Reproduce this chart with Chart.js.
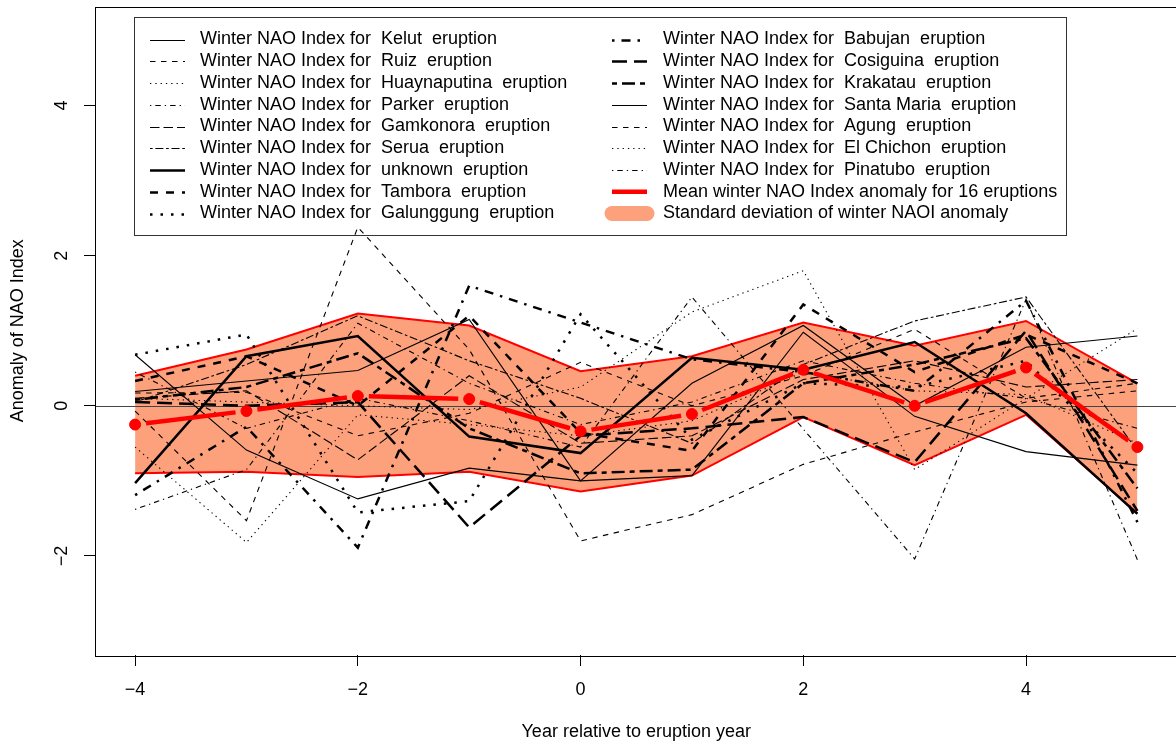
<!DOCTYPE html>
<html>
<head>
<meta charset="utf-8">
<script src="https://cdn.jsdelivr.net/npm/chart.js@4/dist/chart.umd.min.js"></script>
<style>
  html, body { margin: 0; padding: 0; overflow: hidden; background: #fff; }
  #wrap { width: 1184px; height: 744px; }
</style>
</head>
<body>
<div id="wrap"><canvas id="c" width="1184" height="744"></canvas></div>
<script>
// Years relative to the eruption year
const years = [-4, -3, -2, -1, 0, 1, 2, 3, 4, 5];

// Winter NAO index anomaly around each eruption
const kelut        = [0.68, -0.59, -1.24, -0.83, -1.00, -0.93, 0.98, -0.14, -0.61, -0.79];
const ruiz         = [-0.07, -1.53, 2.38, 0.75, -1.80, -1.45, -0.78, -0.35, 0.05, 0.20];
const huaynaputina = [-0.55, -1.82, -0.12, -0.25, -0.40, -0.20, 0.45, 0.20, 0.15, -0.50];
const parker       = [-1.38, -0.85, 1.10, 0.30, -0.25, 0.05, 0.60, 0.30, 0.10, -0.30];
const gamkonora    = [0.10, 0.20, -0.72, 0.40, -0.50, -0.40, 0.35, 0.60, 0.25, 0.35];
const serua        = [0.05, 0.55, 1.20, 0.60, 0.10, -0.50, 0.55, 1.13, 1.45, -0.60];
const unknown      = [-1.03, 0.66, 0.93, -0.41, -0.63, 0.64, 0.48, 0.85, -0.10, -1.44];
const tambora      = [0.33, 0.66, 0.00, 1.20, -0.36, -0.60, 1.35, 0.45, 0.95, 0.30];
const galunggung   = [0.68, 0.95, -1.42, -1.27, 1.22, -0.45, 0.30, 0.25, 0.60, -0.90];
const babujan      = [-1.19, -0.28, -1.89, 1.60, 1.11, 0.62, 0.45, 0.20, 1.40, -1.55];
const cosiguina    = [0.05, 0.00, 0.05, -1.62, -0.40, -0.30, -0.15, -0.75, 1.00, -1.40];
const krakatau     = [0.08, 0.25, 0.70, -0.30, -0.90, -0.85, 0.30, 0.55, 0.90, -1.10];
const santaMaria   = [0.19, 0.33, 0.47, 1.15, -1.00, 0.30, 1.07, 0.00, 0.78, 0.93];
const agung        = [0.17, 0.18, -0.40, -0.10, 0.58, 0.00, 0.40, 1.02, 0.10, 0.30];
const elChichon    = [0.10, 0.05, 0.00, -0.05, 0.25, 1.25, 1.80, -0.85, 0.10, 1.03];
const pinatubo     = [0.45, -0.30, 0.10, -0.20, -0.55, 1.45, -0.31, -2.04, 1.42, -2.05];

// Composite mean and the +/- one standard deviation envelope
const meanAnom = [-0.25, -0.07, 0.13, 0.09, -0.34, -0.11, 0.48, 0.00, 0.51, -0.55];
const sdUpper  = [0.40, 0.75, 1.23, 1.07, 0.46, 0.66, 1.11, 0.80, 1.13, 0.30];
const sdLower  = [-0.90, -0.88, -0.95, -0.88, -1.14, -0.93, -0.15, -0.79, -0.12, -1.43];

// Axis ticks
const xTicks = [-4, -2, 0, 2, 4];
const yTicks = [-2, 0, 2, 4];

const FONT = '"Liberation Sans", Arial, Helvetica, sans-serif';

// Line types (thin / thick variants)
const DASH = {
  solid:    { thin: [],                  thick: [] },
  dashed:   { thin: [5.5, 5.5],          thick: [8, 8] },
  dotted:   { thin: [1.3, 4],            thick: [2.5, 8] },
  dotdash:  { thin: [1.3, 4, 5.5, 4],    thick: [2.5, 7, 9, 7] },
  longdash: { thin: [9.5, 4],            thick: [15, 7] },
  twodash:  { thin: [2.7, 2.7, 8, 2.7],  thick: [5, 5, 13, 5] }
};
const THIN = 1.1, THICK = 2.5;

const eruptions = [
  { name: 'Kelut',        values: kelut,        lty: 'solid',    thick: false },
  { name: 'Ruiz',         values: ruiz,         lty: 'dashed',   thick: false },
  { name: 'Huaynaputina', values: huaynaputina, lty: 'dotted',   thick: false },
  { name: 'Parker',       values: parker,       lty: 'dotdash',  thick: false },
  { name: 'Gamkonora',    values: gamkonora,    lty: 'longdash', thick: false },
  { name: 'Serua',        values: serua,        lty: 'twodash',  thick: false },
  { name: 'unknown',      values: unknown,      lty: 'solid',    thick: true },
  { name: 'Tambora',      values: tambora,      lty: 'dashed',   thick: true },
  { name: 'Galunggung',   values: galunggung,   lty: 'dotted',   thick: true },
  { name: 'Babujan',      values: babujan,      lty: 'dotdash',  thick: true },
  { name: 'Cosiguina',    values: cosiguina,    lty: 'longdash', thick: true },
  { name: 'Krakatau',     values: krakatau,     lty: 'twodash',  thick: true },
  { name: 'Santa Maria',  values: santaMaria,   lty: 'solid',    thick: false },
  { name: 'Agung',        values: agung,        lty: 'dashed',   thick: false },
  { name: 'El Chichon',   values: elChichon,    lty: 'dotted',   thick: false },
  { name: 'Pinatubo',     values: pinatubo,     lty: 'dotdash',  thick: false }
];

const toXY = vals => vals.map((v, i) => ({ x: years[i], y: v }));
const fmt = v => (v < 0 ? '\u2212' + Math.abs(v) : String(v));

const datasets = [];
// mean points (drawn on top)
datasets.push({
  label: 'mean', data: toXY(meanAnom), showLine: false,
  pointRadius: 5.5, pointBackgroundColor: '#ff0000', pointBorderColor: '#ff0000',
  pointBorderWidth: 1, order: 0
});
eruptions.forEach((e, k) => {
  datasets.push({
    label: e.name, data: toXY(e.values),
    borderColor: '#000', borderWidth: e.thick ? THICK : THIN,
    borderDash: DASH[e.lty][e.thick ? 'thick' : 'thin'],
    pointRadius: 0, fill: false, tension: 0, order: 1 + k
  });
});
const BAND_FILL = '#fca17c';
datasets.push({
  label: 'sdLower', data: toXY(sdLower), borderColor: '#ff0000', borderWidth: 2,
  pointRadius: 0, fill: false, order: 30
});
datasets.push({
  label: 'sdUpper', data: toXY(sdUpper), borderColor: '#ff0000', borderWidth: 2,
  backgroundColor: BAND_FILL, pointRadius: 0, fill: '-1', order: 31
});
const BAND_INDEX = datasets.length - 2; // lower edge, drawn after the fill

// Zero reference line, drawn just above the band
const zeroLine = {
  id: 'zeroLine',
  afterDatasetDraw(chart, args) {
    if (args.index !== BAND_INDEX) return;
    const { ctx, chartArea } = chart;
    const y = Math.round(chart.scales.y.getPixelForValue(0)) + 0.5;
    ctx.save();
    ctx.strokeStyle = '#444';
    ctx.lineWidth = 1;
    ctx.beginPath();
    ctx.moveTo(chartArea.left, y);
    ctx.lineTo(chartArea.right, y);
    ctx.stroke();
    ctx.restore();
  }
};

// Mean line with gaps around the points
const meanLine = {
  id: 'meanLine',
  afterDatasetsDraw(chart) {
    const { ctx } = chart;
    const xs = chart.scales.x, ys = chart.scales.y;
    const gap = 11;
    ctx.save();
    ctx.strokeStyle = '#ff0000';
    ctx.lineWidth = 4.5;
    ctx.lineCap = 'butt';
    for (let i = 0; i < meanAnom.length - 1; i++) {
      const x0 = xs.getPixelForValue(years[i]), y0 = ys.getPixelForValue(meanAnom[i]);
      const x1 = xs.getPixelForValue(years[i + 1]), y1 = ys.getPixelForValue(meanAnom[i + 1]);
      const d = Math.hypot(x1 - x0, y1 - y0);
      const ux = (x1 - x0) / d, uy = (y1 - y0) / d;
      ctx.beginPath();
      ctx.moveTo(x0 + ux * gap, y0 + uy * gap);
      ctx.lineTo(x1 - ux * gap, y1 - uy * gap);
      ctx.stroke();
    }
    ctx.restore();
  }
};

// Plot frame and legend box
const frameAndLegend = {
  id: 'frameAndLegend',
  afterDraw(chart) {
    const { ctx, chartArea } = chart;
    ctx.save();
    ctx.strokeStyle = '#000';
    ctx.lineWidth = 1;
    ctx.setLineDash([]);
    ctx.strokeRect(Math.round(chartArea.left) + 0.5, Math.round(chartArea.top) + 0.5,
                   Math.round(chartArea.right - chartArea.left), Math.round(chartArea.bottom - chartArea.top));

    // legend
    const box = { x: 134.5, y: 17.5, w: 932, h: 218 };
    ctx.strokeStyle = '#333';
    ctx.strokeRect(box.x, box.y, box.w, box.h);
    ctx.font = '18px ' + FONT;
    ctx.fillStyle = '#000';
    ctx.textBaseline = 'middle';
    ctx.textAlign = 'left';
    const rowY = i => 39.5 + i * 21.75;
    const cols = [{ x0: 150, x1: 185, tx: 200 }, { x0: 612, x1: 647, tx: 663 }];
    eruptions.forEach((e, k) => {
      const col = cols[k < 9 ? 0 : 1];
      const row = k < 9 ? k : k - 9;
      const y = Math.round(rowY(row)) + 0.5;
      ctx.strokeStyle = '#000';
      ctx.lineWidth = e.thick ? THICK : THIN;
      ctx.setLineDash(DASH[e.lty][e.thick ? 'thick' : 'thin']);
      ctx.beginPath();
      ctx.moveTo(col.x0, y);
      ctx.lineTo(col.x1, y);
      ctx.stroke();
      ctx.setLineDash([]);
      ctx.fillText('Winter NAO Index for  ' + e.name + '  eruption', col.tx, rowY(row));
    });
    // mean entry
    let y = rowY(7);
    ctx.strokeStyle = '#ff0000';
    ctx.lineWidth = 4.5;
    ctx.beginPath(); ctx.moveTo(612, y); ctx.lineTo(647, y); ctx.stroke();
    ctx.fillText('Mean winter NAO Index anomaly for 16 eruptions', 663, y);
    // sd entry
    y = rowY(8);
    ctx.strokeStyle = BAND_FILL;
    ctx.lineWidth = 15;
    ctx.lineCap = 'round';
    ctx.beginPath(); ctx.moveTo(612, y); ctx.lineTo(647, y); ctx.stroke();
    ctx.fillText('Standard deviation of winter NAOI anomaly', 663, y);
    ctx.restore();
  }
};

const noEdgePadding = s => { s.paddingTop = 0; s.paddingBottom = 0; s.paddingLeft = 0; s.paddingRight = 0; };

new Chart(document.getElementById('c'), {
  type: 'line',
  data: { datasets },
  plugins: [zeroLine, meanLine, frameAndLegend],
  options: {
    responsive: false,
    animation: false,
    devicePixelRatio: 1,
    layout: { padding: { left: 0, right: 4, top: 2, bottom: 0 } },
    plugins: { legend: { display: false }, tooltip: { enabled: false } },
    elements: { line: { tension: 0 } },
    scales: {
      x: {
        type: 'linear', min: -4.36, max: 5.36,
        afterBuildTicks: s => { s.ticks = xTicks.map(v => ({ value: v })); },
        afterFit: s => { s.height = 89; noEdgePadding(s); },
        grid: { display: true, drawOnChartArea: false, drawTicks: true, tickLength: 11, tickColor: '#000', tickWidth: 1 },
        border: { display: false },
        ticks: { font: { family: FONT, size: 18 }, color: '#000', padding: 13, maxRotation: 0, minRotation: 0, callback: fmt },
        title: { display: true, text: 'Year relative to eruption year', color: '#000',
                 font: { family: FONT, size: 18 }, padding: { top: 0, bottom: 1 } }
      },
      y: {
        type: 'linear', min: -3.32, max: 5.32,
        afterBuildTicks: s => { s.ticks = yTicks.map(v => ({ value: v })); },
        afterFit: s => { s.width = 95; noEdgePadding(s); },
        grid: { display: true, drawOnChartArea: false, drawTicks: true, tickLength: 11, tickColor: '#000', tickWidth: 1 },
        border: { display: false },
        ticks: { font: { family: FONT, size: 18 }, color: '#000', padding: 12, minRotation: 90, maxRotation: 90,
                 crossAlign: 'center', callback: fmt },
        title: { display: true, text: 'Anomaly of NAO Index', color: '#000',
                 font: { family: FONT, size: 18 }, padding: { top: 7, bottom: 0 } }
      }
    }
  }
});
</script>
</body>
</html>
